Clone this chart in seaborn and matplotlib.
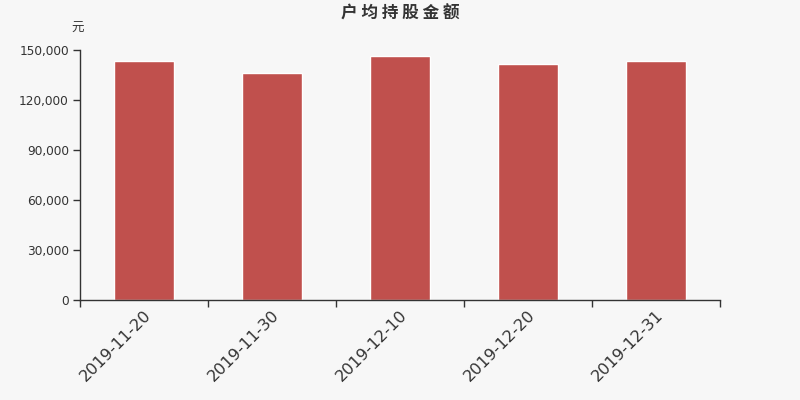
import numpy as np
import pandas as pd
import seaborn as sns
import matplotlib.pyplot as plt
from matplotlib.ticker import FuncFormatter, FixedLocator

# data
dates = ["2019-11-20", "2019-11-30", "2019-12-10", "2019-12-20", "2019-12-31"]
amounts = [143400, 136200, 146400, 141800, 143400]
title = "户均持股金额"

df = pd.DataFrame({"date": dates, "amount": amounts})

sns.set_style("white")
sns.set_style({"xtick.bottom": True, "ytick.left": True})
plt.rcParams["font.family"] = ["DejaVu Sans", "Noto Sans CJK SC"]

bg = "#f7f7f7"
fig = plt.figure(figsize=(8, 4), dpi=100, facecolor=bg)
ax = fig.add_axes([0.1, 0.25, 0.8, 0.625])
ax.set_facecolor(bg)

sns.barplot(data=df, x="date", y="amount", color="#c0504d", width=0.47,
            saturation=1, ax=ax)

ax.set_xlim(-0.5, len(dates) - 0.5)
ax.set_ylim(0, 150000)
ax.set_yticks(np.arange(0, 150001, 30000))
ax.yaxis.set_major_formatter(FuncFormatter(lambda v, p: f"{int(v):,}"))

# x ticks: marks at the category boundaries, labels at centers
ax.xaxis.set_minor_locator(FixedLocator(np.arange(-0.5, len(dates), 1.0)))
ax.tick_params(axis="x", which="major", length=0, pad=5, labelsize=11.6, colors="#333333")
ax.tick_params(axis="x", which="minor", bottom=True, length=5, width=1, color="#333333")
ax.tick_params(axis="y", left=True, length=5, width=1, pad=3, color="#333333",
               labelsize=8.7, labelcolor="#333333")
plt.setp(ax.get_xticklabels(), rotation=45, ha="right", rotation_mode="anchor")

for s in ["top", "right"]:
    ax.spines[s].set_visible(False)
for s in ["left", "bottom"]:
    ax.spines[s].set_color("#333333")
    ax.spines[s].set_linewidth(1)

ax.set_xlabel("")
ax.set_ylabel("")
# spaced-out title like the reference
fig.text(0.5, 0.966, " ".join(title), ha="center", va="center", fontsize=12,
         fontweight="bold", color="#333333",
         family=["Noto Sans CJK SC", "DejaVu Sans"])
fig.text(0.0975, 0.93, "元", ha="center", va="center", fontsize=9, color="#333333",
         family=["Noto Sans CJK SC", "DejaVu Sans"])

fig.savefig("out.png", dpi=100, facecolor=bg)
